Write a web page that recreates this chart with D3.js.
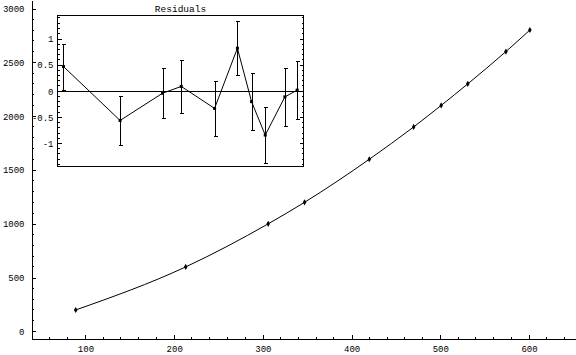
<!DOCTYPE html>
<html>
<head>
<meta charset="utf-8">
<script src="https://cdn.jsdelivr.net/npm/d3@7"></script>
<style>
  body { margin: 0; background: #fff; }
  text { font-family: "Liberation Mono", "DejaVu Sans Mono", monospace; fill: #000; }
</style>
</head>
<body>
<div id="chart"></div>
<script>
// Data
var x_values        =   [89, 213, 306, 347, 420, 470, 501, 531, 574, 601];
var y_values        =   [200, 600, 1000, 1200, 1600, 1900, 2100, 2300, 2600, 2800];
var residuals       =   [0.47, -0.56, -0.04, 0.09, -0.33, 0.82, -0.20, -0.84, -0.11, 0.02];
var resid_errors    =   [0.44, 0.47, 0.48, 0.50, 0.52, 0.52, 0.54, 0.54, 0.55, 0.56];
var x_ticks         =   [100, 200, 300, 400, 500, 600];
var y_ticks         =   [0, 500, 1000, 1500, 2000, 2500, 3000];
var resid_ticks     =   [-1, -0.5, 0, 0.5, 1];
var inset_title     =   "Residuals";

var chart_width     =   576;
var chart_height    =   355;

var data = x_values.map(function(x, i) {
    return { x: x, y: y_values[i], r: residuals[i], e: resid_errors[i] };
});

// Scales
var x_scale         =   d3.scaleLinear().domain([38.6, 653]).range([31, 576]);
var y_scale         =   d3.scaleLinear().domain([-60.4, 3079]).range([338, 0]);

var svg             =   d3.select("#chart")
    .append("svg")
    .attr("width", chart_width)
    .attr("height", chart_height);

// Axes (ticks point inward, like the original)
var x_minor = d3.range(60, 641, 20).filter(function(v) { return v % 100 !== 0; });
var y_minor = d3.range(0, 3001, 100).filter(function(v) { return v % 500 !== 0; });

var x_axis          =   d3.axisBottom(x_scale)
    .tickValues(x_ticks)
    .tickSizeInner(-4)
    .tickSizeOuter(0)
    .tickPadding(7)
    .tickFormat(d3.format("d"));
var y_axis          =   d3.axisLeft(y_scale)
    .tickValues(y_ticks)
    .tickSizeInner(-4)
    .tickSizeOuter(0)
    .tickPadding(7)
    .tickFormat(d3.format("d"));

var gx = svg.append("g")
    .attr("transform", "translate(0,338.5)")
    .call(x_axis);
gx.selectAll(".minor").data(x_minor).enter().append("line")
    .attr("x1", function(d) { return x_scale(d); })
    .attr("x2", function(d) { return x_scale(d); })
    .attr("y1", 0).attr("y2", -2)
    .attr("stroke", "#000");

var gy = svg.append("g")
    .attr("transform", "translate(31.5,0)")
    .call(y_axis);
gy.selectAll(".minor").data(y_minor).enter().append("line")
    .attr("y1", function(d) { return y_scale(d); })
    .attr("y2", function(d) { return y_scale(d); })
    .attr("x1", 0).attr("x2", 2)
    .attr("stroke", "#000");

[gx, gy].forEach(function(g) {
    g.selectAll("text").style("font-size", "9px").style("font-family", "Liberation Mono, monospace");
    g.selectAll("path, line").attr("stroke", "#000").attr("shape-rendering", "crispEdges");
});

// Fit curve through data
var line = d3.line()
    .x(function(d) { return x_scale(d.x); })
    .y(function(d) { return y_scale(d.y); })
    .curve(d3.curveMonotoneX);

svg.append("path")
    .datum(data)
    .attr("d", line)
    .attr("fill", "none")
    .attr("stroke", "#000")
    .attr("stroke-width", 1);

svg.selectAll(".pt").data(data).enter().append("path")
    .attr("transform", function(d) { return "translate(" + x_scale(d.x) + "," + y_scale(d.y) + ")"; })
    .attr("d", d3.symbol().type(d3.symbolDiamond).size(11))
    .attr("fill", "#000");

// Inset: residuals
var rx_scale        =   d3.scaleLinear().domain([75.9, 614.8]).range([57.5, 303.5]);
var ry_scale        =   d3.scaleLinear().domain([-1.44, 1.445]).range([166.5, 15.5]);

var inset = svg.append("g");

inset.append("rect")
    .attr("x", 57.5).attr("y", 15.5)
    .attr("width", 246).attr("height", 151)
    .attr("fill", "#fff")
    .attr("stroke", "#000")
    .attr("shape-rendering", "crispEdges");

inset.append("text")
    .attr("x", 180.5).attr("y", 12)
    .attr("text-anchor", "middle")
    .style("font-size", "9.5px")
    .text(inset_title);

var r_minor = d3.range(-14, 15).map(function(v) { return v / 10; })
    .filter(function(v) { return Math.abs(v * 2 - Math.round(v * 2)) > 1e-6; });

var ry_left = d3.axisLeft(ry_scale)
    .tickValues(resid_ticks)
    .tickSizeInner(-4)
    .tickSizeOuter(0)
    .tickPadding(4)
    .tickFormat(function(d) { return d === 0 ? "0" : String(d); });

var gl = inset.append("g").attr("transform", "translate(57.5,0)").call(ry_left);
gl.select(".domain").remove();
gl.selectAll("text").style("font-size", "9px");
gl.selectAll(".minor").data(r_minor).enter().append("line")
    .attr("y1", function(d) { return ry_scale(d); })
    .attr("y2", function(d) { return ry_scale(d); })
    .attr("x1", 0).attr("x2", 2);

var ry_right = d3.axisRight(ry_scale)
    .tickValues(resid_ticks)
    .tickSizeInner(-4)
    .tickSizeOuter(0)
    .tickFormat("");
var gr = inset.append("g").attr("transform", "translate(303.5,0)").call(ry_right);
gr.select(".domain").remove();
gr.selectAll(".minor").data(r_minor).enter().append("line")
    .attr("y1", function(d) { return ry_scale(d); })
    .attr("y2", function(d) { return ry_scale(d); })
    .attr("x1", 0).attr("x2", -2);

[gl, gr].forEach(function(g) {
    g.selectAll("line").attr("stroke", "#000").attr("shape-rendering", "crispEdges");
});

// zero line
inset.append("line")
    .attr("x1", 57.5).attr("x2", 303.5)
    .attr("y1", Math.round(ry_scale(0)) + 0.5).attr("y2", Math.round(ry_scale(0)) + 0.5)
    .attr("stroke", "#000")
    .attr("shape-rendering", "crispEdges");

// error bars
var eb = inset.selectAll(".err").data(data).enter().append("g");
eb.append("line")
    .attr("x1", function(d) { return Math.round(rx_scale(d.x)) + 0.5; })
    .attr("x2", function(d) { return Math.round(rx_scale(d.x)) + 0.5; })
    .attr("y1", function(d) { return ry_scale(d.r - d.e); })
    .attr("y2", function(d) { return ry_scale(d.r + d.e); });
eb.append("line")
    .attr("x1", function(d) { return Math.round(rx_scale(d.x)) - 1.5; })
    .attr("x2", function(d) { return Math.round(rx_scale(d.x)) + 2.5; })
    .attr("y1", function(d) { return Math.round(ry_scale(d.r + d.e)) + 0.5; })
    .attr("y2", function(d) { return Math.round(ry_scale(d.r + d.e)) + 0.5; });
eb.append("line")
    .attr("x1", function(d) { return Math.round(rx_scale(d.x)) - 1.5; })
    .attr("x2", function(d) { return Math.round(rx_scale(d.x)) + 2.5; })
    .attr("y1", function(d) { return Math.round(ry_scale(d.r - d.e)) + 0.5; })
    .attr("y2", function(d) { return Math.round(ry_scale(d.r - d.e)) + 0.5; });
eb.selectAll("line").attr("stroke", "#000").attr("shape-rendering", "crispEdges");

var rline = d3.line()
    .x(function(d) { return rx_scale(d.x); })
    .y(function(d) { return ry_scale(d.r); });

inset.append("path")
    .datum(data)
    .attr("d", rline)
    .attr("fill", "none")
    .attr("stroke", "#000")
    .attr("stroke-width", 1);

inset.selectAll(".rpt").data(data).enter().append("rect")
    .attr("x", function(d) { return rx_scale(d.x) - 1.5; })
    .attr("y", function(d) { return ry_scale(d.r) - 1.5; })
    .attr("width", 3).attr("height", 3)
    .attr("fill", "#000");
</script>
</body>
</html>
